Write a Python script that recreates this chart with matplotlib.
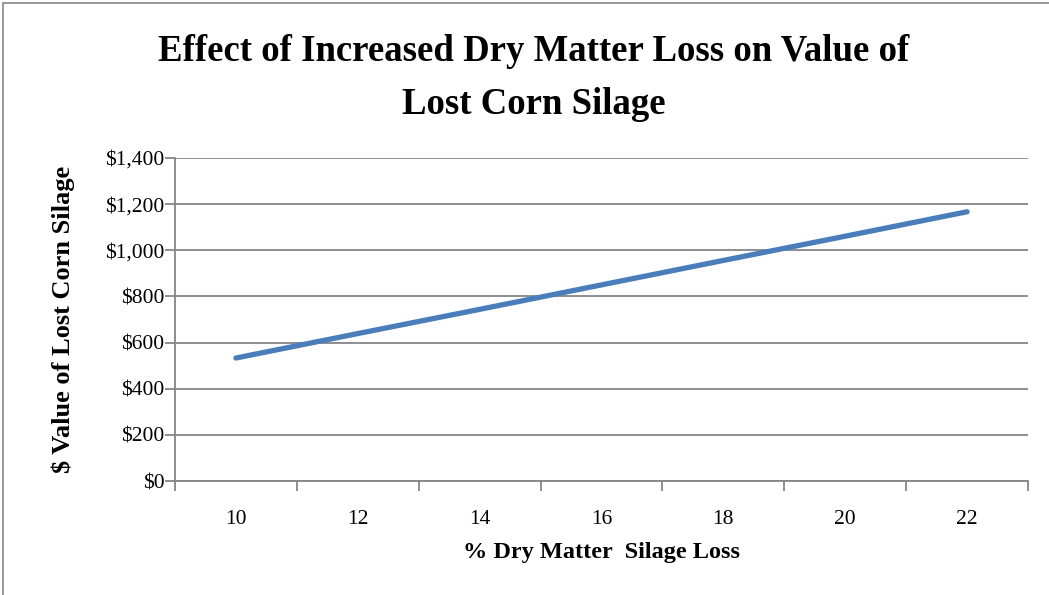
import matplotlib
matplotlib.use("Agg")
import matplotlib.pyplot as plt
from matplotlib.patches import Rectangle
from matplotlib.ticker import FixedLocator, NullFormatter

categories = ["10", "12", "14", "16", "18", "20", "22"]
values = [533, 639, 744, 850, 956, 1061, 1167]
yticks = [0, 200, 400, 600, 800, 1000, 1200, 1400]
ytick_labels = ["$0", "$200", "$400", "$600", "$800", "$1,000", "$1,200", "$1,400"]

title = "Effect of Increased Dry Matter Loss on Value of\nLost Corn Silage"
xlabel = "% Dry Matter  Silage Loss"
ylabel = "$ Value of Lost Corn Silage"

SERIF = ["Liberation Serif", "DejaVu Serif"]
GRAY = "#868686"
BLUE = "#4A7EBB"

W, H = 1049, 595
fig = plt.figure(figsize=(W / 100, H / 100), dpi=100)

# outer chart border
fig.patches.append(Rectangle((3 / W, -0.05), 1.2, 1 - 3 / H + 0.05, transform=fig.transFigure,
                             fill=False, edgecolor=GRAY, linewidth=1.2))

ax = fig.add_axes([175 / W, 1 - 481 / H, (1028 - 175) / W, (481 - 158) / H])
x = list(range(len(categories)))
ax.plot(x, values, color=BLUE, linewidth=3.8, solid_capstyle="round", zorder=3)

ax.set_xlim(-0.5, len(categories) - 0.5)
ax.set_ylim(0, 1400)

ax.set_yticks(yticks)
ax.set_yticklabels(ytick_labels, fontfamily=SERIF, fontsize=15.5)
ax.yaxis.grid(True, color=GRAY, linewidth=1.3)
ax.set_axisbelow(True)

ax.xaxis.set_major_locator(FixedLocator([i - 0.5 for i in range(len(categories) + 1)]))
ax.xaxis.set_major_formatter(NullFormatter())
ax.xaxis.set_minor_locator(FixedLocator(x))
ax.set_xticklabels(categories, minor=True, fontfamily=SERIF, fontsize=15.5)
ax.tick_params(axis="x", which="minor", length=0, pad=21)
ax.tick_params(axis="x", which="major", length=7, width=1.3, color=GRAY, direction="out")
ax.tick_params(axis="y", length=7, width=1.3, color=GRAY, direction="out", pad=0.5)

for s in ["top", "right"]:
    ax.spines[s].set_visible(False)
for s in ["left", "bottom"]:
    ax.spines[s].set_color(GRAY)
    ax.spines[s].set_linewidth(1.3)

ax.set_xlabel(xlabel, fontfamily=SERIF, fontsize=17.5, fontweight="bold", labelpad=9)
ax.set_ylabel(ylabel, fontfamily=SERIF, fontsize=19, fontweight="bold", labelpad=22)

fig.text(0.5086, 1 - 78 / H, title, ha="center", va="center", fontfamily=SERIF,
         fontsize=26.5, fontweight="bold", linespacing=1.7)

fig.savefig("out.png", dpi=100)
